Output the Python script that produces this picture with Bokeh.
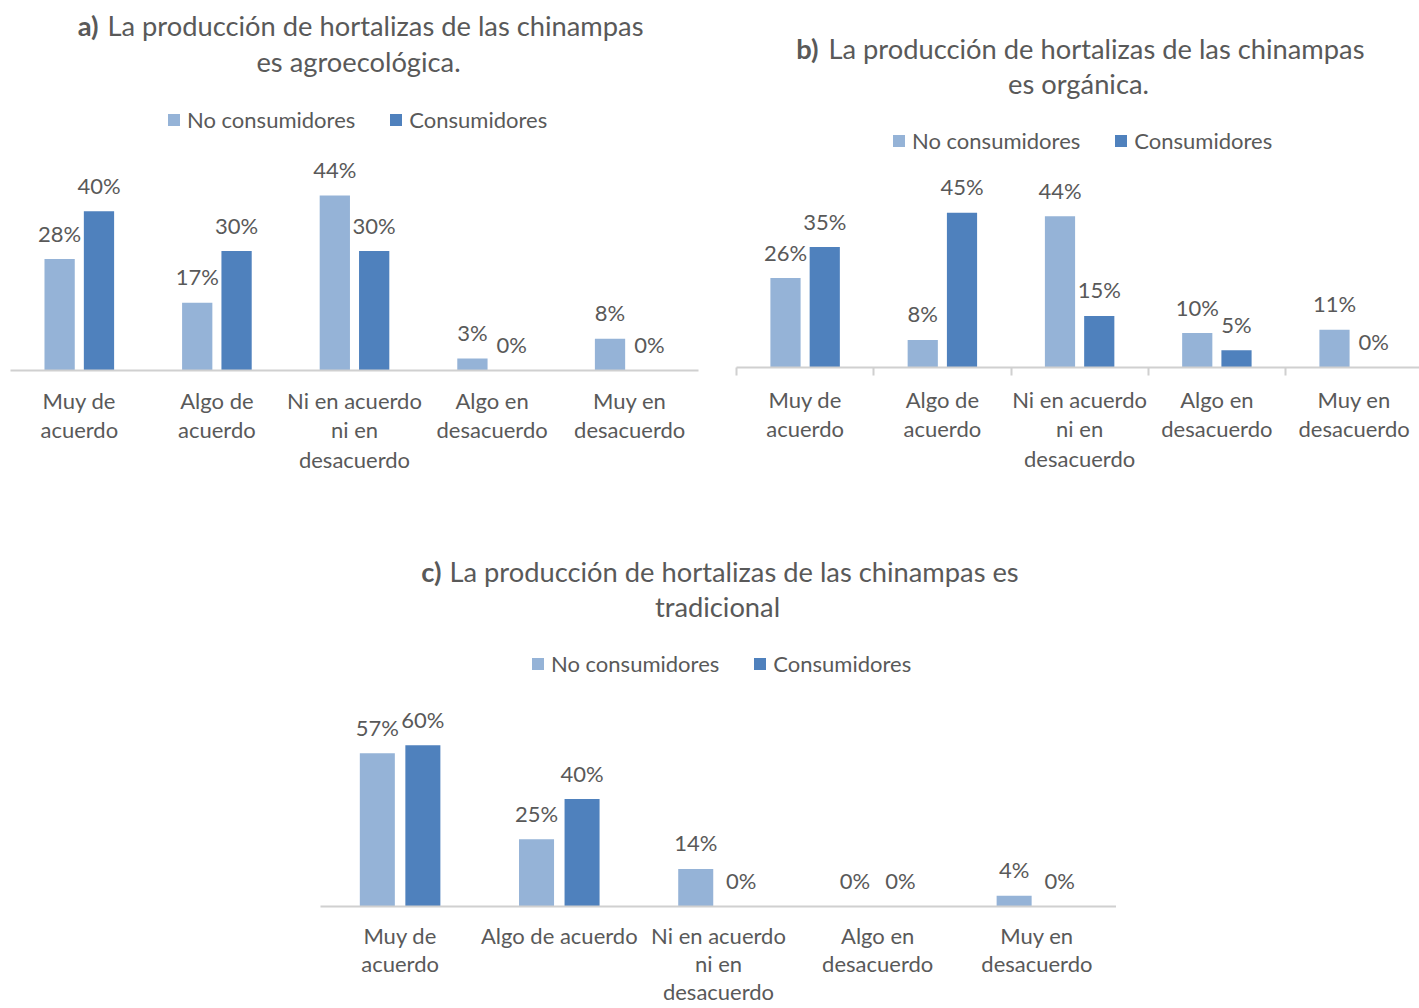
from bokeh.plotting import figure
from bokeh.models import (ColumnDataSource, Range1d, FixedTicker, Label, Legend,
                          LegendItem, Spacer)
from bokeh.layouts import column, row
from bokeh.transform import dodge
from bokeh.core.properties import value
from bokeh.embed import file_html
from bokeh.resources import INLINE

# ---------------- data ----------------
categorias = ["Muy de\nacuerdo", "Algo de\nacuerdo", "Ni en acuerdo\nni en\ndesacuerdo",
              "Algo en\ndesacuerdo", "Muy en\ndesacuerdo"]
categorias_c = ["Muy de\nacuerdo", "Algo de acuerdo", "Ni en acuerdo\nni en\ndesacuerdo",
                "Algo en\ndesacuerdo", "Muy en\ndesacuerdo"]
series = ["No consumidores", "Consumidores"]

a_no_cons = [28, 17, 44, 3, 8]
a_cons = [40, 30, 30, 0, 0]
b_no_cons = [26, 8, 44, 10, 11]
b_cons = [35, 45, 15, 5, 0]
c_no_cons = [57, 25, 14, 0, 4]
c_cons = [60, 40, 0, 0, 0]

titulo_a = ("a)", "La producción de hortalizas de las chinampas", "es agroecológica.")
titulo_b = ("b)", "La producción de hortalizas de las chinampas", "es orgánica.")
titulo_c = ("c)", "La producción de hortalizas de las chinampas es", "tradicional")

# ---------------- style ----------------
LIGHT = "#95B3D7"
DARK = "#4F81BD"
TXT = "#595959"
FONT = "Lato"
AXIS = "#D0D0D0"


def make_chart(cats, no_cons, cons, titulo, width, height, bl, br, bb, x_end, y_end,
               title_pos, legend_pos, boundary_ticks=False, line_h=1.1, standoff=10):
    p = figure(width=width, height=height, output_backend="svg", toolbar_location=None,
               x_range=Range1d(-0.5, x_end), y_range=Range1d(0, y_end),
               y_axis_location=None, min_border_left=bl, min_border_right=br,
               min_border_top=0, min_border_bottom=bb)
    p.outline_line_color = None
    p.xgrid.visible = False
    p.ygrid.visible = False
    p.background_fill_color = "white"
    p.border_fill_color = "white"

    idx = list(range(len(cats)))
    src = ColumnDataSource(dict(
        idx=idx, no_cons=no_cons, cons=cons,
        lab_no=[f"{v}%" for v in no_cons], lab_c=[f"{v}%" for v in cons]))
    off, w = 0.143, 0.22
    r1 = p.vbar(x=dodge("idx", -off), top="no_cons", width=w, source=src,
                fill_color=LIGHT, line_color=None)
    r2 = p.vbar(x=dodge("idx", off), top="cons", width=w, source=src,
                fill_color=DARK, line_color=None)
    for col, d in (("lab_no", -off), ("lab_c", off)):
        ycol = "no_cons" if col == "lab_no" else "cons"
        p.text(x=dodge("idx", d), y=ycol, text=col, source=src, text_align="center",
               text_baseline="alphabetic", y_offset=-26, text_font=value(FONT),
               text_font_size="22px", text_color=TXT)

    ax = p.xaxis[0]
    minor = [i - 0.5 for i in range(len(cats) + 1)] if boundary_ticks else []
    ax.ticker = FixedTicker(ticks=idx, minor_ticks=minor)
    ax.major_label_overrides = {i: c for i, c in zip(idx, cats)}
    ax.axis_line_color = AXIS
    ax.axis_line_width = 2
    ax.major_tick_line_color = None
    if boundary_ticks:
        ax.minor_tick_line_color = AXIS
        ax.minor_tick_line_width = 2
        ax.minor_tick_in = 0
        ax.minor_tick_out = 8
    else:
        ax.minor_tick_line_color = None
    ax.major_label_text_font = FONT
    ax.major_label_text_font_size = "22px"
    ax.major_label_text_color = TXT
    ax.major_label_standoff = standoff
    ax.major_label_text_line_height = line_h

    (bx, rx, y1, cx, y2) = title_pos
    p.add_layout(Label(x=bx, y=y1, x_units="screen", y_units="screen", text=titulo[0],
                       text_align="right", text_baseline="middle", text_font=FONT,
                       text_font_size="27.3px", text_font_style="bold", text_color=TXT))
    p.add_layout(Label(x=rx, y=y1, x_units="screen", y_units="screen", text=titulo[1],
                       text_align="left", text_baseline="middle", text_font=FONT,
                       text_font_size="27.3px", text_color=TXT))
    p.add_layout(Label(x=cx, y=y2, x_units="screen", y_units="screen", text=titulo[2],
                       text_align="center", text_baseline="middle", text_font=FONT,
                       text_font_size="27.3px", text_color=TXT))

    leg = Legend(items=[LegendItem(label=series[0], renderers=[r1]),
                        LegendItem(label=series[1], renderers=[r2])],
                 location=legend_pos, orientation="horizontal",
                 glyph_width=15, glyph_height=15, label_standoff=6, spacing=33,
                 padding=0, margin=0, border_line_color=None,
                 background_fill_alpha=0, label_text_font=FONT,
                 label_text_font_size="22px", label_text_color=TXT)
    p.add_layout(leg, "center")
    return p


pa = make_chart(categorias, a_no_cons, a_cons, titulo_a, width=710, height=498,
                bl=10, br=12, bb=128, x_end=4.5, y_end=370 / 3.98,
                title_pos=(88, 97, 345, 348, 309), legend_pos=(156, 237))
pb = make_chart(categorias, b_no_cons, b_cons, titulo_b, width=709, height=498,
                bl=26, br=0, bb=131, x_end=-0.5 + 683 / 137.25, y_end=367 / 3.44,
                title_pos=(82, 92, 319, 342, 284), legend_pos=(155, 213),
                boundary_ticks=True)
pc = make_chart(categorias_c, c_no_cons, c_cons, titulo_c, width=796, height=510,
                bl=0, br=0, bb=100, x_end=4.5, y_end=410 / 2.70,
                title_pos=(121, 129, 335, 397, 300), legend_pos=(210, 229),
                line_h=1.05, standoff=9)

layout = column(row(column(pa), column(pb)), row(Spacer(width=320, height=10), pc))

open("out.html", "w").write(file_html(layout, INLINE))
